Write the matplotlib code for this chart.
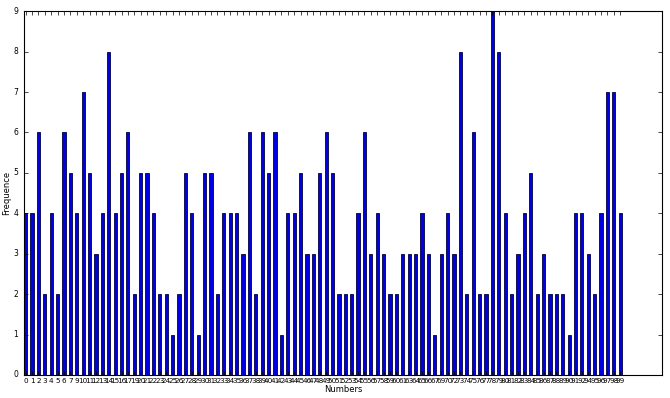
import matplotlib
matplotlib.use("Agg")
import matplotlib.pyplot as plt
import numpy as np

numbers = [0, 1, 2, 3, 4, 5, 6, 7, 9, 10, 11, 12, 13, 14, 15, 16, 17,
           19, 20, 21, 22, 23, 24, 25, 26, 27, 28, 29, 30, 31, 32, 33, 34,
           35, 36, 37, 38, 39, 40, 41, 42, 43, 44, 45, 46, 47, 48, 49, 50,
           51, 52, 53, 54, 55, 56, 57, 58, 59, 60, 61, 63, 64, 65, 66, 67,
           69, 70, 72, 73, 74, 75, 76, 77, 78, 79, 80, 81, 82, 83, 84, 85,
           86, 87, 88, 89, 90, 91, 92, 94, 95, 96, 97, 98, 99]
frequence = [4, 4, 6, 2, 4, 2, 6, 5, 4, 7, 5, 3, 4, 8, 4, 5, 6,
             2, 5, 5, 4, 2, 2, 1, 2, 5, 4, 1, 5, 5, 2, 4, 4,
             4, 3, 6, 2, 6, 5, 6, 1, 4, 4, 5, 3, 3, 5, 6, 5,
             2, 2, 2, 4, 6, 3, 4, 3, 2, 2, 3, 3, 3, 4, 3, 1,
             3, 4, 3, 8, 2, 6, 2, 2, 9, 8, 4, 2, 3, 4, 5, 2,
             3, 2, 2, 2, 1, 4, 4, 3, 2, 4, 7, 7, 4]

plt.style.use("classic")
fig = plt.figure(figsize=(6.7, 3.98), dpi=100, facecolor="white")
ax = fig.add_axes([0.0358, 0.0578, 0.952, 0.914])
ax.set_facecolor("white")

pos = np.arange(len(numbers))
ax.bar(pos, frequence, width=0.5, align="center", color="#0000e0",
       edgecolor="#000040", linewidth=0.6)

ax.set_xlim(-0.25, 99.5)
ax.set_ylim(0, 9)
ax.set_xticks(pos)
ax.set_xticklabels([str(n) for n in numbers], fontsize=5.2)
ax.set_yticks(range(0, 10))
ax.tick_params(axis="y", labelsize=5.5)
ax.tick_params(direction="in", length=3, width=0.5, top=True, right=True)
ax.tick_params(axis="x", pad=2)
ax.tick_params(axis="y", pad=4)
for s in ax.spines.values():
    s.set_linewidth(0.8)
ax.set_xlabel("Numbers", fontsize=6, labelpad=1)
ax.set_ylabel("Frequence", fontsize=6, labelpad=2)

fig.savefig("out.png", dpi=100, facecolor="white")
